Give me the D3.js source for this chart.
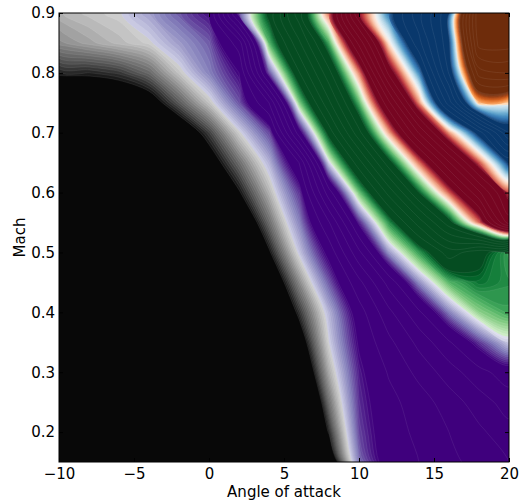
<!DOCTYPE html>
<html>
<head>
<meta charset="utf-8">
<script src="https://cdn.jsdelivr.net/npm/d3@7"></script>
<style>
body { margin: 0; background: #fff; }
text { font-family: "DejaVu Sans", sans-serif; }
</style>
</head>
<body>
<div id="chart"></div>
<script>
// sample grid: angle of attack (columns) and Mach number (rows, bottom first)
var alpha = [-10, -8, -6, -4, -2, 0, 2, 4, 6, 8, 10, 12, 14, 16, 18, 20];
var mach = [0.15, 0.20, 0.25, 0.30, 0.35, 0.40, 0.45, 0.50, 0.55, 0.60, 0.65, 0.70, 0.75, 0.80, 0.85, 0.90];

// field value at each sample (one row per Mach number)
var field = [
  [0, 0, 0, 0, 0, 0, 0, 0, 0, 0.18, 0.6, 0.75, 0.8, 0.87, 0.94, 1.0],
  [0, 0, 0, 0, 0, 0, 0, 0, 0, 0.31, 0.64, 0.76, 0.82, 0.9, 0.98, 1.06],
  [0, 0, 0, 0, 0, 0, 0, 0, 0.05, 0.383, 0.66, 0.77, 0.85, 0.95, 1.05, 1.15],
  [0, 0, 0, 0, 0, 0, 0, 0, 0.152, 0.448, 0.678, 0.81, 0.93, 1.05, 1.17, 1.25],
  [0, 0, 0, 0, 0, 0, 0, 0, 0.233, 0.5, 0.712, 0.874, 1.03, 1.19, 1.34, 1.47],
  [0, 0, 0, 0, 0, 0, 0, 0.11, 0.32, 0.533, 0.754, 0.974, 1.184, 1.395, 1.56, 1.62],
  [0, 0, 0, 0, 0, 0, 0, 0.19, 0.41, 0.626, 0.87, 1.14, 1.407, 1.6, 1.67, 1.64],
  [0, 0, 0, 0, 0, 0, 0.067, 0.289, 0.51, 0.734, 1.077, 1.417, 1.63, 1.85, 1.74, 1.62],
  [0, 0, 0, 0, 0, 0, 0.18, 0.38, 0.584, 0.893, 1.318, 1.643, 1.946, 2.254, 2.614, 3.15],
  [0, 0, 0, 0, 0, 0.125, 0.292, 0.458, 0.658, 1.157, 1.583, 1.936, 2.3, 2.626, 2.98, 3.35],
  [0, 0, 0, 0, 0.107, 0.245, 0.383, 0.532, 0.8, 1.478, 1.86, 2.26, 2.61, 2.99, 3.36, 3.72],
  [0, 0, 0, 0.1, 0.216, 0.336, 0.49, 0.64, 1.25, 1.743, 2.17, 2.574, 3.01, 3.41, 3.75, 4.2],
  [0.2, 0.2, 0.21, 0.25, 0.363, 0.477, 0.628, 0.9, 1.567, 1.98, 2.384, 2.88, 3.4, 3.95, 4.55, 4.52],
  [0.31, 0.312, 0.33, 0.38, 0.48, 0.586, 0.7, 1.35, 1.79, 2.17, 2.6, 3.23, 3.64, 4.21, 4.95, 5.0],
  [0.42, 0.444, 0.468, 0.492, 0.558, 0.62, 0.85, 1.6, 1.98, 2.375, 2.93, 3.48, 3.87, 4.28, 5.25, 5.25],
  [0.46, 0.48, 0.495, 0.552, 0.621, 0.69, 1.35, 1.74, 2.16, 2.62, 3.3, 3.66, 3.97, 4.28, 5.3, 5.3]
];

var xTicks = [-10, -5, 0, 5, 10, 15, 20];
var yTicks = [0.2, 0.3, 0.4, 0.5, 0.6, 0.7, 0.8, 0.9];

var w = 520, h = 503;
var margin = {top: 13, right: 11, bottom: 41, left: 59};

var x = d3.scaleLinear().domain([-10, 20]).range([margin.left, w - margin.right]);
var y = d3.scaleLinear().domain([0.15, 0.9]).range([h - margin.bottom, margin.top]);

// contour grid coords -> screen (samples sit at cell centres)
var gx = d3.scaleLinear().domain([0.5, alpha.length - 0.5]).range([x(alpha[0]), x(alpha[alpha.length - 1])]);
var gy = d3.scaleLinear().domain([0.5, mach.length - 0.5]).range([y(mach[0]), y(mach[mach.length - 1])]);

// smooth the polygon rings a little so the bands curve like the original
var ringLine = d3.line().curve(d3.curveCatmullRomClosed.alpha(0.5));
function smoothPath(mp) {
  var s = "";
  mp.coordinates.forEach(function(poly) {
    poly.forEach(function(ring) {
      var pts = ring.slice(0, -1).map(function(p) { return [gx(p[0]), gy(p[1])]; });
      if (pts.length > 2) s += ringLine(pts);
    });
  });
  return s;
}

// colour map: flat bands joined by ramps through white
var black = "#080808", purple = "#3f007d", green = "#054c21",
    red = d3.interpolateRdBu(0.02), blue = d3.interpolateRdBu(0.985), brown = "#6e2c0b";

function col(v) {
  if (v < 0.3) return black;
  if (v < 0.5) return d3.interpolateGreys(0.93 - 0.65 * (v - 0.3) / 0.2);
  if (v < 0.7) return d3.interpolatePurples(0.3 + 0.7 * (v - 0.5) / 0.2);
  if (v < 1.3) return purple;
  if (v < 1.5) return d3.interpolatePurples(1 - 0.8 * (v - 1.3) / 0.2);
  if (v < 1.7) return d3.interpolateGreens(0.2 + 0.77 * (v - 1.5) / 0.2);
  if (v < 2.3) return green;
  if (v < 2.5) return d3.interpolateGreens(0.97 - 0.85 * (v - 2.3) / 0.2);
  if (v < 2.7) return d3.interpolateRdBu(0.46 - 0.44 * (v - 2.5) / 0.2);
  if (v < 3.3) return red;
  if (v < 3.5) return d3.interpolateRdBu(0.02 + 0.46 * (v - 3.3) / 0.2);
  if (v < 3.7) return d3.interpolateRdBu(0.52 + 0.465 * (v - 3.5) / 0.2);
  if (v < 4.3) return blue;
  if (v < 4.5) return d3.interpolateRdBu(0.985 - 0.41 * (v - 4.3) / 0.2);
  if (v < 4.7) return d3.interpolateRgb(d3.interpolateOranges(0.15 + 0.8 * (v - 4.5) / 0.2), brown)(Math.pow((v - 4.5) / 0.2, 3));
  return brown;
}

// levels: dense in the ramps, sparse in the flat bands
var edges = [0.3, 0.5, 0.7, 1.3, 1.5, 1.7, 2.3, 2.5, 2.7, 3.3, 3.5, 3.7, 4.3, 4.5, 4.7, 5.3];
var levels = [];
for (var k = 0; k < edges.length - 1; k++) {
  var step = (edges[k + 1] - edges[k]) > 0.25 ? 0.1 : 0.0125;
  d3.range(edges[k], edges[k + 1] - 1e-9, step).forEach(function(t) { levels.push(t); });
}

var values = [];
field.forEach(function(row) { row.forEach(function(v) { values.push(v); }); });

var contours = d3.contours()
                 .size([alpha.length, mach.length])
                 .thresholds(levels)(values);

var svg = d3.select("#chart")
            .append("svg")
            .attr("width", w)
            .attr("height", h);

svg.append("clipPath")
   .attr("id", "plotclip")
   .append("rect")
   .attr("x", x(-10)).attr("y", y(0.9))
   .attr("width", x(20) - x(-10)).attr("height", y(0.15) - y(0.9));

var plot = svg.append("g").attr("clip-path", "url(#plotclip)");

plot.append("rect")
    .attr("x", x(-10)).attr("y", y(0.9))
    .attr("width", x(20) - x(-10)).attr("height", y(0.15) - y(0.9))
    .style("fill", black);

plot.selectAll("path")
    .data(contours)
    .enter()
    .append("path")
    .attr("d", smoothPath)
    .style("fill", function(d, i) {
      var next = i < levels.length - 1 ? levels[i + 1] : d.value + 0.1;
      return col((d.value + next) / 2);
    })
    .style("stroke", "rgba(255,255,255,0.13)")
    .style("stroke-width", 0.6);

// frame
svg.append("rect")
   .attr("x", x(-10)).attr("y", y(0.9))
   .attr("width", x(20) - x(-10)).attr("height", y(0.15) - y(0.9))
   .style("fill", "none")
   .style("stroke", "#000")
   .style("stroke-width", 1);

var fmt = function(d) { return d3.format("")(d).replace("-", "\u2212"); };

svg.append("g")
   .attr("transform", "translate(0," + y(0.15) + ")")
   .call(d3.axisBottom(x).tickValues(xTicks).tickSizeInner(-4).tickSizeOuter(0).tickPadding(6).tickFormat(fmt));
svg.append("g")
   .attr("transform", "translate(0," + y(0.9) + ")")
   .call(d3.axisTop(x).tickValues(xTicks).tickSizeInner(-4).tickSizeOuter(0).tickFormat(""));
svg.append("g")
   .attr("transform", "translate(" + x(-10) + ",0)")
   .call(d3.axisLeft(y).tickValues(yTicks).tickSizeInner(-4).tickSizeOuter(0).tickPadding(4).tickFormat(d3.format(".1f")));
svg.append("g")
   .attr("transform", "translate(" + x(20) + ",0)")
   .call(d3.axisRight(y).tickValues(yTicks).tickSizeInner(-4).tickSizeOuter(0).tickFormat(""));

svg.selectAll(".domain").remove();
svg.selectAll(".tick line").style("stroke", "#000");
svg.selectAll(".tick text")
   .style("font-family", "DejaVu Sans")
   .style("font-size", "15px")
   .style("fill", "#000");

svg.append("text")
   .attr("x", (x(-10) + x(20)) / 2)
   .attr("y", 497)
   .attr("text-anchor", "middle")
   .style("font-size", "15px")
   .text("Angle of attack");

svg.append("text")
   .attr("transform", "translate(25," + (y(0.15) + y(0.9)) / 2 + ") rotate(-90)")
   .attr("text-anchor", "middle")
   .style("font-size", "15px")
   .text("Mach");
</script>
</body>
</html>
